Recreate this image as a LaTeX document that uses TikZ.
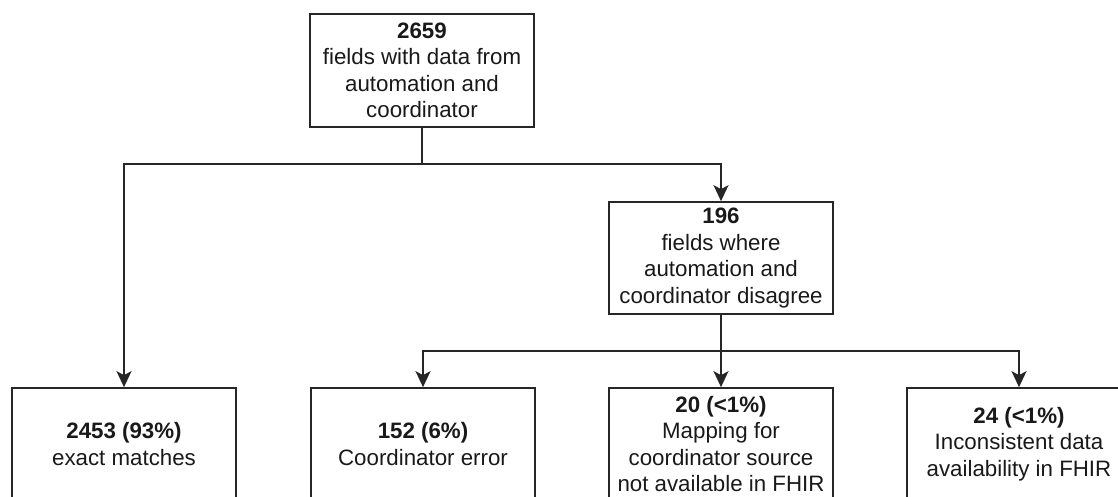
\documentclass[tikz,border=0pt]{standalone}
\usepackage{fontspec}
\setmainfont{Liberation Sans}
\usetikzlibrary{arrows.meta}
\begin{document}
\begin{tikzpicture}[x=1pt,y=-1pt,
  box/.style={draw=black!85,line width=1.7pt,minimum width=224pt,minimum height=112pt,
    align=center,inner sep=0pt,font=\fontsize{22.3}{26.5}\selectfont,text=black!90},
  conn/.style={draw=black!85,line width=1.7pt},
  arr/.style={conn,-{Stealth[length=16pt,width=15pt,inset=4pt]}}]
\clip (0,0) rectangle (1118,496);
\node[box,minimum height=113pt] (top) at (422,70.5) {\textbf{2659}\\fields with data from\\automation and\\coordinator};
\node[box] (mid) at (721,258) {\textbf{196}\\fields where\\automation and\\coordinator disagree};
\node[box] (b1) at (124,444) {\textbf{2453 (93\%)}\\exact matches};
\node[box] (b2) at (423,444) {\textbf{152 (6\%)}\\Coordinator error};
\node[box] (b3) at (721,444) {\textbf{20 (<1\%)}\\Mapping for\\coordinator source\\not available in FHIR};
\node[box] (b4) at (1019,444) {\textbf{24 (<1\%)}\\Inconsistent data\\availability in FHIR};
\coordinate (j1) at (422,164);
\coordinate (j2) at (721,351);
\draw[conn] (top.south) -- (j1);
\draw[arr] (j1) -| (b1.north);
\draw[arr] (j1) -| (mid.north);
\draw[conn] (mid.south) -- (j2);
\draw[arr] (j2) -| (b2.north);
\draw[arr] (j2) -- (b3.north);
\draw[arr] (j2) -| (b4.north);
\end{tikzpicture}
\end{document}
